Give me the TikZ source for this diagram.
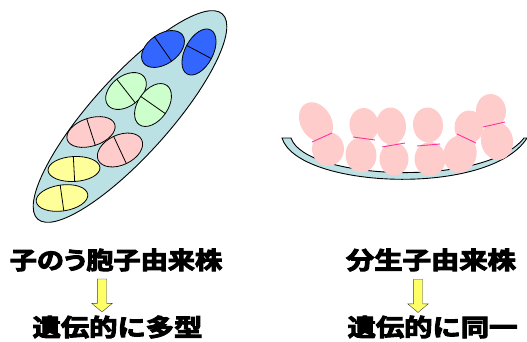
\documentclass[tikz,border=0pt]{standalone}
\usepackage{fontspec}
\usetikzlibrary{shapes.arrows}
\newfontfamily\jp{Noto Sans CJK JP Bold}[FakeBold=4]
\newfontfamily\jpp{Noto Sans CJK JP Bold}[FakeBold=4,RawFeature=+palt]

\definecolor{ascusblue}{RGB}{188,225,228}
\definecolor{sporeblue}{RGB}{51,102,255}
\definecolor{sporegreen}{RGB}{204,255,204}
\definecolor{sporepink}{RGB}{255,204,204}
\definecolor{sporeyellow}{RGB}{255,255,153}
\definecolor{budline}{RGB}{255,51,153}
\definecolor{arrowyellow}{RGB}{255,255,102}

\begin{document}
\begin{tikzpicture}[x=1pt,y=-1pt,
    label/.style={font=\jp\fontsize{24}{24}\selectfont,inner sep=0pt,xscale=1.18},
    downarrow/.style={single arrow,shape border rotate=270,draw=black!75,fill=arrowyellow,
      inner sep=4.5pt,minimum height=33pt,single arrow head extend=5.5pt,single arrow tip angle=100},
    cell/.style={fill=sporepink},
    bud/.style={budline,line width=0.9pt}]
  \useasboundingbox (0,0) rectangle (527,342);

  % ascus with eight two-celled spores
  \draw[fill=ascusblue,line width=0.9pt,rotate around={48:(130,116.5)}]
    (130,116.5) ellipse [x radius=138, y radius=39];
  \foreach \x/\y/\a/\rx/\ry/\c in {163/49/35/24/15/sporeblue, 199/52/62/25/14/sporeblue,
      126/91/38/23/15/sporegreen, 153/105/55/24/15/sporegreen,
      91/132/18/25/14/sporepink, 120/150/25/24/15/sporepink,
      74/169/3/26/12.5/sporeyellow, 62/198/8/26/13/sporeyellow}
  {
    \begin{scope}[shift={(\x,\y)},rotate=\a]
      \draw[fill=\c,line width=0.8pt] (0,0) ellipse [x radius=\rx, y radius=\ry];
      \draw[line width=0.8pt] (0,-\ry) -- (0,\ry);
    \end{scope}
  }

  % substrate
  \draw[fill=ascusblue,line width=0.9pt]
    (282,138) .. controls (298,189) and (490,197) .. (527,138)
    -- (524,138) .. controls (485,188) and (305,180) .. (291,138) -- cycle;

  % budding cells, top and bottom of each pair
  \foreach \x/\y/\a/\rx/\ry in {316/122/30/15.5/21, 328/149/0/16/17,
      364/125/5/14.5/17, 361/155/5/15.5/17.5,
      391/126/5/15/18.5, 394/159/0/14.5/16.5,
      428/125/5/15/17.5, 430/159/0/15.5/17,
      469/127/-5/14.5/16.5, 460/154/-15/16.5/19,
      491/111/5/15/17, 497/141/10/16/19}
    \fill[cell,rotate around={\a:(\x,\y)}] (\x,\y) ellipse [x radius=\rx, y radius=\ry];
  \draw[bud] (312,142) -- (332,133);
  \draw[bud] (353,137) -- (375,140);
  \draw[bud] (382,147) -- (405,143);
  \draw[bud] (417,146) -- (440,144);
  \draw[bud] (457,134) -- (476,143);
  \draw[bud] (483,127) -- (505,122);

  % labels
  \node[label,font=\jpp\fontsize{24}{24}\selectfont,xscale=0.96] (ascosp) at (116,260) {子のう胞子由来株};
  \node[label] (conid) at (431,260) {分生子由来株};
  \node[downarrow] (arrowL) at (102,293.5) {};
  \node[downarrow] (arrowR) at (418,294) {};
  \node[label] (poly) at (117.5,327) {遺伝的に多型};
  \node[label] (ident) at (432.5,327) {遺伝的に同一};
\end{tikzpicture}
\end{document}
